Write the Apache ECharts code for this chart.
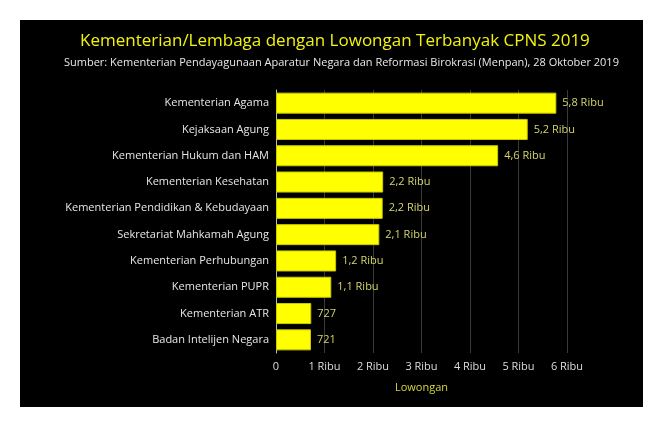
<!DOCTYPE html>
<html>
<head>
<meta charset="utf-8">
<script src="https://cdn.jsdelivr.net/npm/echarts@6/dist/echarts.min.js"></script>
<style>
  html, body { margin: 0; padding: 0; background: #fff; }
  #chart { position: absolute; left: 20px; top: 20px; width: 623px; height: 387px; background: #000; }
</style>
</head>
<body>
<div id="chart"></div>
<script>
// data
var categories = [
    'Kementerian Agama',
    'Kejaksaan Agung',
    'Kementerian Hukum dan HAM',
    'Kementerian Kesehatan',
    'Kementerian Pendidikan & Kebudayaan',
    'Sekretariat Mahkamah Agung',
    'Kementerian Perhubungan',
    'Kementerian PUPR',
    'Kementerian ATR',
    'Badan Intelijen Negara'
];
var lowongan = [5780, 5190, 4580, 2210, 2200, 2130, 1240, 1140, 727, 721];
var xTicks = [0, 1000, 2000, 3000, 4000, 5000, 6000];

var fontName = 'Open Sans';

var formatRibu = function(v) {
    if (v === 0) return '0';
    if (v >= 1000) {
        var s = (v / 1000).toFixed(1).replace('.', ',');
        if (s.slice(-2) === ',0') s = s.slice(0, -2);
        return s + ' Ribu';
    }
    return '' + v;
};

var myChart = echarts.init(document.getElementById('chart'));

var option = {
    backgroundColor: '#000',
    textStyle: { fontFamily: fontName },
    title: [
        {
            text: 'Kementerian/Lembaga dengan Lowongan Terbanyak CPNS 2019',
            left: 55,
            top: 8,
            textStyle: { color: '#f2f20f', fontSize: 17, fontWeight: 'normal', fontFamily: fontName }
        },
        {
            text: 'Sumber: Kementerian Pendayagunaan Aparatur Negara dan Reformasi Birokrasi (Menpan), 28 Oktober 2019',
            left: 39,
            top: 32,
            textStyle: { color: '#e8e8e8', fontSize: 11, fontWeight: 'normal', fontFamily: fontName }
        }
    ],
    grid: { left: 256, right: 76, top: 70, bottom: 54, containLabel: false },
    xAxis: {
        type: 'value',
        min: xTicks[0],
        max: xTicks[xTicks.length - 1],
        interval: 1000,
        name: 'Lowongan',
        nameLocation: 'middle',
        nameGap: 29,
        nameTextStyle: { color: '#d7d73a', fontSize: 11, fontFamily: fontName },
        axisLine: { show: false },
        axisTick: { show: false },
        axisLabel: {
            color: '#dddddd', fontSize: 11, margin: 8, fontFamily: fontName,
            formatter: formatRibu
        },
        splitLine: { show: true, lineStyle: { color: '#3a3a3a', width: 1 } }
    },
    yAxis: {
        type: 'category',
        data: categories,
        inverse: true,
        axisLine: { show: true, lineStyle: { color: '#bbbbbb', width: 1 } },
        axisTick: { show: false },
        axisLabel: { color: '#e6e6e6', fontSize: 11, margin: 7, fontFamily: fontName },
        splitLine: { show: false }
    },
    series: [
        {
            type: 'bar',
            data: lowongan,
            barCategoryGap: '20%',
            itemStyle: { color: '#ffff00', borderColor: '#c9c900', borderWidth: 1 },
            label: {
                show: true,
                position: 'right',
                distance: 6,
                color: '#d4d46e',
                fontSize: 11,
                fontFamily: fontName,
                formatter: function(p) { return formatRibu(p.value); }
            },
            animation: false
        }
    ]
};

myChart.setOption(option);
</script>
</body>
</html>
